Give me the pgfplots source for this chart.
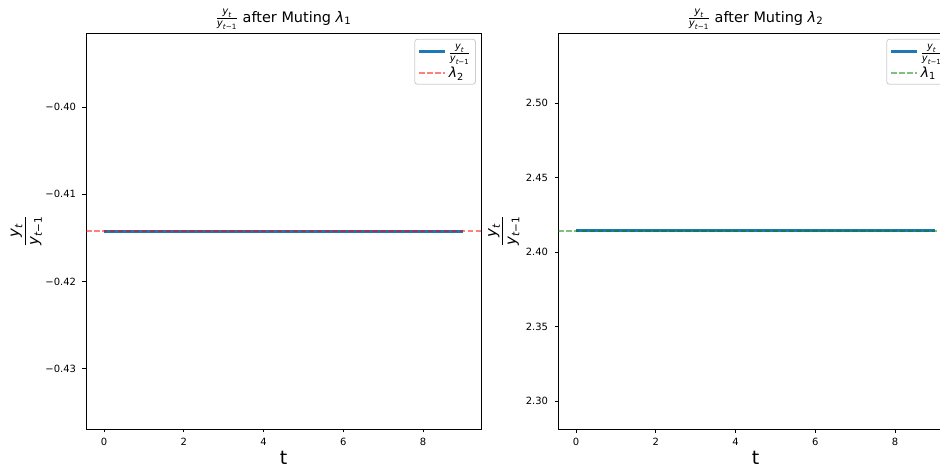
\documentclass[border=0pt]{standalone}
\usepackage{amsmath}
\usepackage{fontspec}
\usepackage{pgfplots}
\pgfplotsset{compat=1.18}
\setmainfont{DejaVu Sans}
\definecolor{c0}{HTML}{1F77B4}
\newcommand{\iv}[1]{\text{\itshape #1}}
\newcommand{\frc}{\frac{\iv{y}_{\iv{t}}}{\iv{y}_{\iv{t}\text{−1}}}}
\pgfplotsset{
  myax/.style={
    scale only axis, width=395bp, height=396bp,
    anchor=south west,
    xmin=-0.45, xmax=9.45, xtick={0,2,4,6,8},
    tick align=outside, major tick length=3.5bp,
    xtick pos=bottom, ytick pos=left,
    axis line style={line width=0.8bp, black},
    every tick/.style={black, line width=0.8bp},
    tick label style={font=\fontsize{10}{12}\selectfont},
    yticklabel style={xshift=-3bp},
    xticklabel style={yshift=-2bp},
    /pgf/number format/assume math mode=true,
    scaled y ticks=false,
    title style={at={(0.5,1)}, anchor=base, yshift=5bp, inner sep=0pt, font=\fontsize{14.5}{17}\selectfont},
    xlabel style={at={(axis description cs:0.5,0)}, anchor=north, yshift=-22bp, inner sep=0pt, font=\fontsize{19}{22}\selectfont},
    legend style={at={(rel axis cs:0.987,0.985)}, anchor=north east,
      draw=black!20, line width=0.8bp, rounded corners=2.5bp,
      font=\fontsize{14}{16}\selectfont, inner xsep=3bp, inner ysep=3bp,
      row sep=5bp, cells={anchor=west}},
    legend image code/.code={\draw[#1] (0bp,0bp) -- (26bp,0bp);},
  },
  ylab/.style={every axis y label/.style={at={(axis description cs:#1,0.5)}, anchor=south, rotate=90, inner sep=0pt, font=\fontsize{15}{18}\selectfont}},
}
\begin{document}
\begin{tikzpicture}
\begin{axis}[myax, ylab=-0.111, at={(86bp,39bp)},
  ymin=-0.43693, ymax=-0.39149,
  ytick={-0.43,-0.42,-0.41,-0.40},
  yticklabels={−0.43,−0.42,−0.41,−0.40},
  title={$\frc$ after Muting $\iv{λ}_{\text{1}}$},
  xlabel={t},
  ylabel={$\displaystyle\frc$},
]
\addplot[c0, line width=3bp] coordinates {(0,-0.41421356) (1,-0.41421356) (2,-0.41421356) (3,-0.41421356) (4,-0.41421356) (5,-0.41421356) (6,-0.41421356) (7,-0.41421356) (8,-0.41421356) (9,-0.41421356)};
\addlegendentry{$\frc$}
\addplot[red, opacity=0.5, line width=1.5bp, dash pattern=on 5.55bp off 2.4bp] coordinates {(-0.45,-0.41421356) (9.45,-0.41421356)};
\addlegendentry{$\iv{λ}_{\text{2}}$}
\end{axis}
\begin{axis}[myax, ylab=-0.097, at={(558bp,39bp)},
  ymin=2.2813, ymax=2.5471,
  ytick={2.30,2.35,2.40,2.45,2.50},
  yticklabels={2.30,2.35,2.40,2.45,2.50},
  title={$\frc$ after Muting $\iv{λ}_{\text{2}}$},
  xlabel={t},
  ylabel={$\displaystyle\frc$},
]
\addplot[c0, line width=3bp] coordinates {(0,2.41421356) (1,2.41421356) (2,2.41421356) (3,2.41421356) (4,2.41421356) (5,2.41421356) (6,2.41421356) (7,2.41421356) (8,2.41421356) (9,2.41421356)};
\addlegendentry{$\frc$}
\addplot[green!50!black, opacity=0.5, line width=1.5bp, dash pattern=on 5.55bp off 2.4bp] coordinates {(-0.45,2.41421356) (9.45,2.41421356)};
\addlegendentry{$\iv{λ}_{\text{1}}$}
\end{axis}
\pgfresetboundingbox
\path[use as bounding box] (0bp,0bp) rectangle (940bp,468bp);
\end{tikzpicture}
\end{document}
